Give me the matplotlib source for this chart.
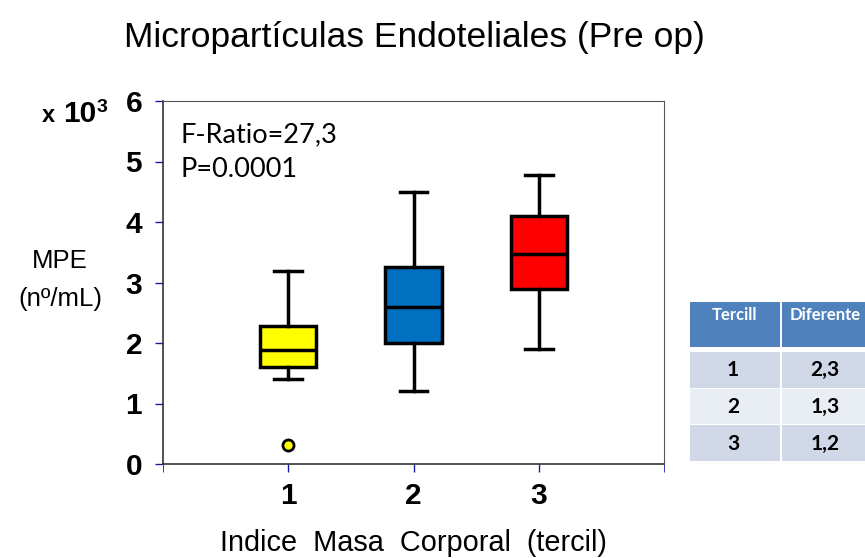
import matplotlib
matplotlib.use("Agg")
import matplotlib.pyplot as plt
from matplotlib.patches import Rectangle

# ---- data ----
groups = [1, 2, 3]
whisker_low = [1.40, 1.21, 1.90]
q1 = [1.60, 2.00, 2.89]
medians = [1.88, 2.60, 3.47]
q3 = [2.28, 3.26, 4.10]
whisker_high = [3.19, 4.50, 4.78]
outliers = [[0.31], [], []]
box_colors = ["#FFFF00", "#0070C0", "#FF0000"]

yticks = [0, 1, 2, 3, 4, 5, 6]
xticks = [1, 2, 3]

table_header = ["Tercill", "Diferente"]
table_tercil = ["1", "2", "3"]
table_diff = ["2,3", "1,3", "1,2"]

plt.rcParams['font.family'] = ['Liberation Sans', 'DejaVu Sans']

fig = plt.figure(figsize=(8.65, 5.58), dpi=100)
ax = fig.add_axes([163/865, 1-464/558, (664-163)/865, (464-101)/558])

stats = []
for i in range(len(groups)):
    stats.append(dict(med=medians[i], q1=q1[i], q3=q3[i],
                      whislo=whisker_low[i], whishi=whisker_high[i],
                      fliers=outliers[i], label=str(groups[i])))

bp = ax.bxp(stats, positions=groups, widths=0.45, patch_artist=True,
            showfliers=True,
            boxprops=dict(linewidth=2.5, edgecolor="black"),
            medianprops=dict(color="black", linewidth=2.5),
            whiskerprops=dict(color="black", linewidth=2.5),
            capprops=dict(color="black", linewidth=2.5),
            capwidths=0.22,
            flierprops=dict(marker="o", markerfacecolor="#FFFF00",
                            markeredgecolor="black", markersize=8,
                            markeredgewidth=2))
for patch, c in zip(bp["boxes"], box_colors):
    patch.set_facecolor(c)

ax.set_xlim(0, 4)
ax.set_ylim(0, 6)
ax.set_xticks(xticks)
ax.set_xticklabels([str(x) for x in xticks], fontsize=21.5, fontweight="bold")
ax.set_yticks(yticks)
ax.set_yticklabels([str(y) for y in yticks], fontsize=21.5, fontweight="bold")
ax.tick_params(axis="both", color="#1a1aa0", length=6, width=1, direction="out")
ax.tick_params(axis="y", pad=9)
ax.tick_params(axis="x", pad=7)
ax.set_xticks([0, 4], minor=True)
ax.tick_params(axis="x", which="minor", color="#1a1aa0", length=6)
for s in ["top", "right"]:
    ax.spines[s].set_color("#555555")
for s in ["left", "bottom"]:
    ax.spines[s].set_color("#333333")
ax.spines["bottom"].set_linewidth(1.2)
ax.spines["left"].set_linewidth(1.2)

ax.text(0.034, 0.94, "F-Ratio=27,3\nP=0.0001", transform=ax.transAxes,
        fontsize=19.5, family=["Lato", "DejaVu Sans"], va="top", ha="left",
        linespacing=1.45)

fig.text(414/865, 1-37/558, "Micropartículas Endoteliales (Pre op)",
         fontsize=25.5, ha="center", va="center")
fig.text(413/865, 1-543/558, "Indice  Masa  Corporal  (tercil)",
         fontsize=20.8, ha="center", va="center")
fig.text(60/865, 1-280/558, "MPE\n(nº/mL)", fontsize=18.5, ha="center",
         va="center", linespacing=1.75)
fig.text(42/865, 1-122/558, "x", fontsize=17, ha="left",
         va="baseline", fontweight="bold")
fig.text(63/865, 1-122/558, "10", fontsize=21.5, ha="left",
         va="baseline", fontweight="bold")
fig.text(97/865, 1-112/558, "3", fontsize=14, ha="left",
         va="baseline", fontweight="bold")

# ---- table ----
x0, xm, x1 = 690, 780, 865
hdr_top, hdr_bot = 302, 347
row_h = 36.7
row_top0 = 352
row_colors = ["#D0D8E8", "#E9EDF4", "#D0D8E8"]

def fx(px):
    return px / 865

def fy(py):
    return 1 - py / 558

for (a, b) in [(x0, xm), (xm + 2, x1)]:
    fig.patches.append(Rectangle((fx(a), fy(hdr_bot)), fx(b - a), (hdr_bot - hdr_top) / 558,
                                 transform=fig.transFigure, facecolor="#4F81BD",
                                 edgecolor="none"))
fig.text(fx(734), fy(315), table_header[0], color="white",
         fontsize=12, fontweight="bold", family=["Lato", "DejaVu Sans"], ha="center", va="center")
fig.text(fx(825), fy(315), table_header[1], color="white",
         fontsize=12, fontweight="bold", family=["Lato", "DejaVu Sans"], ha="center", va="center")

for i in range(len(table_tercil)):
    top = row_top0 + i * row_h
    for (a, b) in [(x0, xm), (xm + 2, x1)]:
        fig.patches.append(Rectangle((fx(a), fy(top + row_h - 1)), fx(b - a), (row_h - 1) / 558,
                                     transform=fig.transFigure, facecolor=row_colors[i],
                                     edgecolor="none"))
    cy = top + row_h / 2
    fig.text(fx(733), fy(cy), table_tercil[i], fontsize=15, fontweight="bold",
             family=["Lato", "DejaVu Sans"], ha="center", va="center")
    fig.text(fx(825), fy(cy), table_diff[i], fontsize=15, fontweight="bold",
             family=["Lato", "DejaVu Sans"], ha="center", va="center")

fig.savefig("out.png", dpi=100, facecolor="white")
